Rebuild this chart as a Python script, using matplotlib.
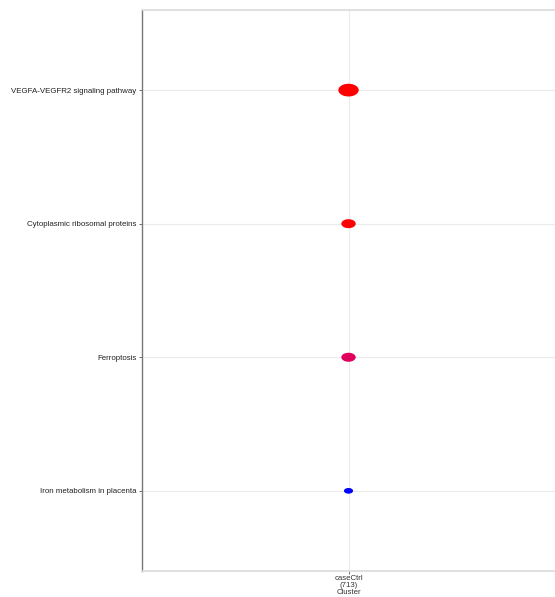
import numpy as np
import matplotlib
matplotlib.use("Agg")
import matplotlib.pyplot as plt
from matplotlib.colors import LinearSegmentedColormap, Normalize
from matplotlib.path import Path

# enrichment results for the single cluster
pathways = [
    "Iron metabolism in placenta",
    "Ferroptosis",
    "Cytoplasmic ribosomal proteins",
    "VEGFA-VEGFR2 signaling pathway",
]
gene_count = [2, 5, 5, 10]
p_adjust = [0.038, 0.0105, 0.0024, 0.0021]
cluster_labels = ["caseCtrl\n(713)"]

plt.rcParams["font.family"] = ["Liberation Sans", "DejaVu Sans"]

fig = plt.figure(figsize=(5.55, 5.97), dpi=100)
ax = fig.add_axes([0.2559, 0.0436, 0.7441, 0.9397])

# red -> blue gradient (low p-value in red)
cmap = LinearSegmentedColormap.from_list(
    "pv", [(0.0, "#FF0000"), (0.5, "#BA00CC"), (1.0, "#0000FF")])
norm = Normalize(vmin=min(p_adjust), vmax=max(p_adjust))

# slightly stretched ellipse marker
theta = np.linspace(0, 2 * np.pi, 60)
ellipse = Path(np.column_stack([1.6 * np.cos(theta), np.sin(theta)]), closed=True)

y = np.arange(1, len(pathways) + 1)
x = np.ones_like(y)
ax.scatter(x, y, s=np.array(gene_count) * 21.5, c=p_adjust, cmap=cmap,
           norm=norm, marker=ellipse, linewidths=0, zorder=3)

ax.set_xlim(0.5, 1.5)
ax.set_ylim(0.4, 4.6)
ax.set_yticks(y)
ax.set_yticklabels(pathways)
ax.set_xticks([1])
ax.set_xticklabels(cluster_labels, linespacing=0.9)
ax.set_xlabel("Cluster", fontsize=5.6, color="#333333", labelpad=0.5)

ax.grid(True, color="#EBEBEB", linewidth=0.8, zorder=0)
ax.set_axisbelow(True)
ax.tick_params(axis="y", length=2.5, width=0.6, color="#555555",
               labelsize=5.7, labelcolor="#222222", pad=1.5)
ax.tick_params(axis="x", length=2, width=0.6, color="#555555",
               labelsize=5.6, labelcolor="#333333", pad=1)

ax.spines["left"].set_color("#777777")
ax.spines["left"].set_linewidth(1.0)
for side in ("top", "bottom"):
    ax.spines[side].set_color("#DADADA")
    ax.spines[side].set_linewidth(1.2)
ax.spines["right"].set_visible(False)

fig.savefig("out.png", dpi=100)
